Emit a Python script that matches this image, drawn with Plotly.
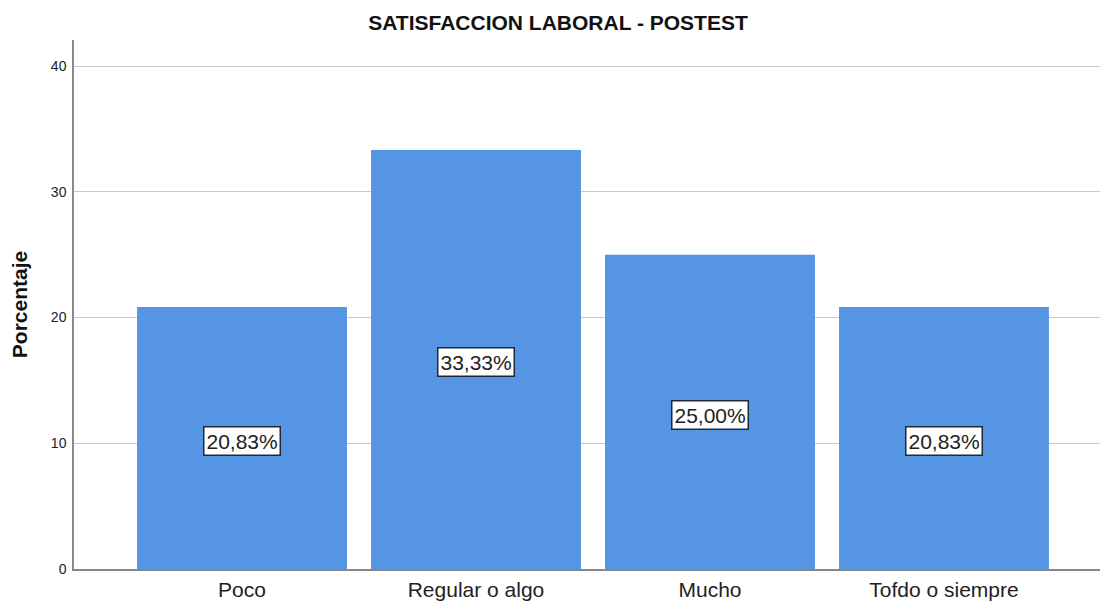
import plotly.graph_objects as go

categories = ["Poco", "Regular o algo", "Mucho", "Tofdo o siempre"]
values = [20.83, 33.33, 25.00, 20.83]
labels = ["20,83%", "33,33%", "25,00%", "20,83%"]
y_ticks = [0, 10, 20, 30, 40]

fig = go.Figure()
fig.add_trace(go.Bar(x=categories, y=values, marker=dict(color="#5595E3", line=dict(width=0)),
                     hoverinfo="skip"))

for c, v, t in zip(categories, values, labels):
    fig.add_annotation(x=c, y=v / 2, text=t, showarrow=False, yshift=-3,
                       font=dict(family="Liberation Sans, Arial", size=21, color="#222"),
                       bgcolor="white", bordercolor="#1e2a3a", borderwidth=1.5, borderpad=2)

fig.update_layout(
    width=1100, height=595,
    margin=dict(l=66, r=0, t=32, b=34),
    paper_bgcolor="white", plot_bgcolor="white",
    bargap=0.103,
    showlegend=False,
    title=dict(text="<b>SATISFACCION LABORAL - POSTEST</b>", x=0.5, xanchor="center",
               y=0.976, yanchor="middle",
               font=dict(family="Liberation Sans, Arial", size=21, color="#111")),
    font=dict(family="Liberation Sans, Arial", color="#222"),
    xaxis=dict(range=[-0.718, 3.701], showline=True, linecolor="#888", linewidth=1.5,
               ticks="", tickfont=dict(size=21, color="#222"), showgrid=False, fixedrange=True,
               ticklabelstandoff=1),
    yaxis=dict(range=[0, 42.07], tickvals=y_ticks, showline=True, linecolor="#888", linewidth=1.5,
               ticks="", tickfont=dict(size=14, color="#222"), showgrid=True, gridcolor="#c8c8c8",
               gridwidth=1, zeroline=False, ticklabelstandoff=3,
               title=dict(text="<b>Porcentaje</b>", font=dict(size=21, color="#111"), standoff=18)),
)

fig.write_html("out.html")
